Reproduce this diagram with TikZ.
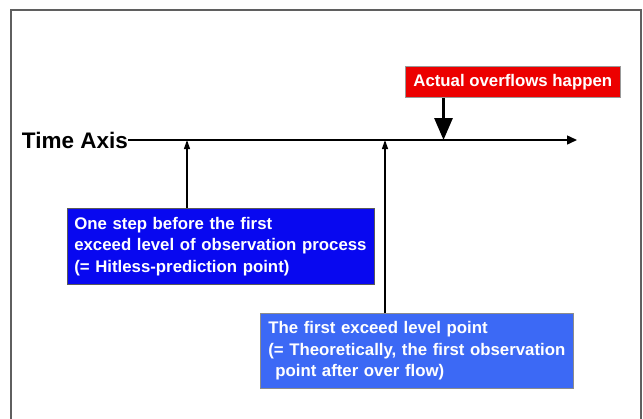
\documentclass[tikz,border=0pt]{standalone}
\usepackage{fontspec}
\setmainfont{Liberation Sans}
\usetikzlibrary{arrows.meta}
\definecolor{boxblue}{RGB}{8,8,240}
\definecolor{boxlight}{RGB}{60,105,245}
\definecolor{boxred}{RGB}{236,0,0}
\definecolor{framegray}{RGB}{95,95,95}
\tikzset{
  labelbox/.style={draw=black!65, line width=0.6pt, anchor=north west, align=left,
    text=white, inner ysep=0pt, font=\fontsize{16.8}{21.5}\selectfont\bfseries},
  pointer/.style={line width=1.2pt, -{Triangle[length=9pt,width=6pt]}},
}
\begin{document}
\begin{tikzpicture}[x=1pt,y=-1pt]
\useasboundingbox (0,0) rectangle (643,418);
\fill[white] (0,0) rectangle (643,418);
\draw[framegray, line width=1.3pt] (11,420) -- (11,10) -- (641,10) -- (641,420);

\node[anchor=east, inner sep=0pt, font=\fontsize{22.5}{26}\selectfont\bfseries] (ta) at (128,140) {Time Axis};
\coordinate (axend) at (577,140);
\coordinate (p1) at (187,140);
\coordinate (p2) at (385,140);
\coordinate (p3) at (443.5,140);

\node[labelbox, fill=boxred, draw=black!40, minimum width=215pt, minimum height=31pt, align=center, inner xsep=0pt, font=\fontsize{16.8}{20}\selectfont\bfseries] (red) at (405,66) {Actual overflows happen};

\node[labelbox, fill=boxblue, text width=293pt, inner xsep=7pt, minimum height=76pt] (b1) at (67,208)
  {\mbox{One step before the first}\\\mbox{exceed level of observation process}\\\mbox{(= Hitless-prediction point)}};

\node[labelbox, fill=boxlight, draw=black!45, text width=296.5pt, inner xsep=8.5pt, minimum height=75pt] (b2) at (259.5,313)
  {\mbox{The first exceed level point}\\\mbox{(= Theoretically, the first observation}\\\mbox{\hspace*{7pt}point after over flow)}};

\draw[line width=1.5pt, -{Triangle[length=10pt,width=9pt]}] (ta.east) -- (axend);
\draw[pointer] (b1.north -| p1) -- (p1);
\draw[pointer] (b2.north -| p2) -- (p2);
\draw[line width=3pt, -{Triangle[length=22pt,width=18pt]}] (red.south -| p3) -- (p3);
\end{tikzpicture}
\end{document}
